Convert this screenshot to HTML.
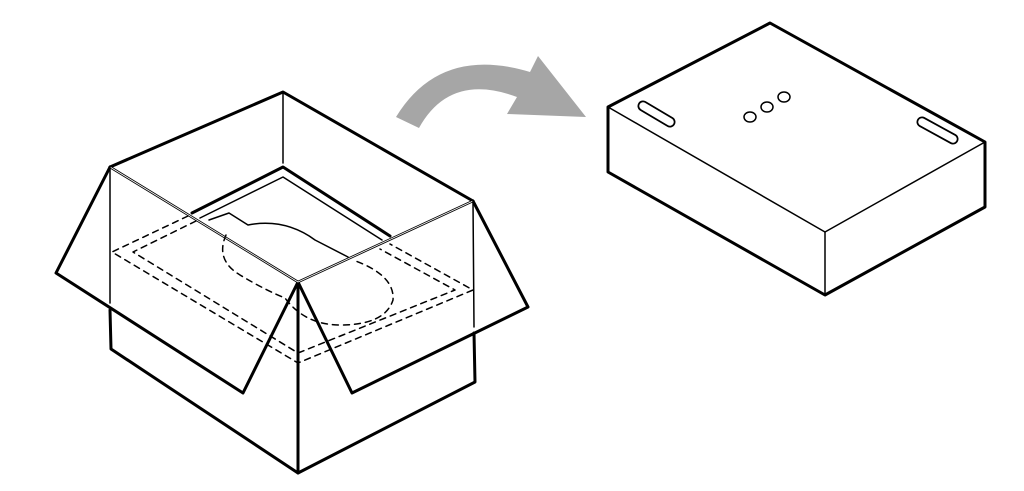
<!DOCTYPE html>
<html><head><style>html,body{margin:0;padding:0;background:#fff;width:1024px;height:491px;overflow:hidden}</style></head>
<body>
<svg width="1024" height="491" viewBox="0 0 1024 491" xmlns="http://www.w3.org/2000/svg" fill="none" stroke="#000" stroke-linejoin="round" stroke-linecap="round">
<!-- arrow -->
<path d="M396,117 Q440,45 530,72 L538,56 L586,117 L507,114 L517,97 Q450,72 419,128 Z" fill="#a6a6a6" stroke="none"/>
<!-- left box -->
<g stroke-width="3">
<path d="M110,167 L283,92 L473,201"/>
<path d="M110,167 L56,273 L243,393 L298,282"/>
<path d="M473,201 L528,307 L352,393 L298,282"/>
<path d="M110,310 L111,349 L298,473 L475,382 L474,333"/>
<path d="M298,282 L298,473"/>
<path d="M192,213 L283,167 L390,236"/>
</g>
<g stroke-width="2.5">
<path d="M110,167 L298,282 L473,201"/>
</g>
<g stroke="#fff" stroke-width="0.8">
<path d="M110,167 L298,282 L473,201"/>
</g>
<g stroke-width="1.5">
<path d="M110,167 L110,303"/>
<path d="M473,201 L474,327"/>
<path d="M283,92 L283,163"/>
<path d="M200,218 L283,177 L382,240"/>
<path d="M209,220 L229,213 L248,225 Q285,218 315,240 L348,257"/>
</g>
<g stroke-width="1.5" stroke-dasharray="6,5">
<path d="M188,216 L112,252 L298,363 L473,290 L390,244"/>
<path d="M196,221 L133,252 L298,353 L455,290 L380,249"/>
<path d="M226,235 Q215,260 240,275 Q265,290 285,298 Q305,325 340,325 Q385,325 393,300 Q395,275 353,260"/>
</g>
<!-- right box -->
<g stroke-width="3">
<path d="M608,107 L770,23 L985,142 L985,207 L825,295 L608,172 Z"/>
</g>
<g stroke-width="1.5">
<path d="M608,107 L825,232 L985,142"/>
<path d="M825,232 L825,295"/>
<line x1="643" y1="106" x2="670" y2="122" stroke-width="11"/>
<line x1="922" y1="122" x2="953" y2="139" stroke-width="11"/>
</g>
<g stroke="#fff" stroke-width="7.5">
<line x1="643" y1="106" x2="670" y2="122"/>
<line x1="922" y1="122" x2="953" y2="139"/>
</g>
<g stroke-width="1.5" fill="#fff">
<ellipse cx="750" cy="117" rx="6" ry="5"/>
<ellipse cx="767" cy="107" rx="6" ry="5"/>
<ellipse cx="784" cy="97" rx="6" ry="5"/>
</g>
</svg>
</body></html>
